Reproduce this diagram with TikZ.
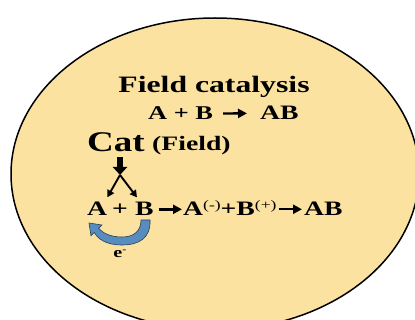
\documentclass[tikz,border=0pt]{standalone}
\usepackage{fontspec}
\setmainfont{Liberation Serif}[FakeStretch=1.35]
\newfontfamily\catfont{Liberation Serif}[FakeStretch=1.3]
\usepackage{xcolor}
\usetikzlibrary{arrows.meta}

\definecolor{cellfill}{RGB}{252,226,160}
\definecolor{eblue}{RGB}{88,140,190}
\definecolor{eedge}{RGB}{40,62,88}

\newcommand\chg[1]{\raisebox{6pt}{\fontsize{13}{13}\selectfont\mdseries #1}}

\begin{document}
\begin{tikzpicture}[x=1pt, y=-1pt,
    ttl/.style  = {inner sep=0pt, font=\bfseries\fontsize{23.5}{25}\selectfont},
    eqn/.style  = {inner sep=0pt, font=\bfseries\fontsize{20.5}{22}\selectfont},
    catl/.style = {inner sep=0pt, font=\catfont\bfseries\fontsize{28.5}{30}\selectfont},
    fld/.style  = {inner sep=0pt, font=\bfseries\fontsize{20.5}{22}\selectfont},
    rxn/.style  = {-{Triangle[length=9pt,width=9pt]}, line width=2.4pt},
    fork/.style = {-{Triangle[length=7pt,width=7.5pt]}, line width=1.9pt},
    push/.style = {-{Triangle[length=8pt,width=14pt]}, line width=6.5pt},
]

    \useasboundingbox (0,0) rectangle (415,320);
    \clip (0,0) rectangle (415,320);

    % ── Cellule ──
    \draw[fill=cellfill, line width=1.5pt] (215,174) ellipse [x radius=204, y radius=156];

    % ── Titre et bilan ──
    \node[ttl, anchor=base] (title) at (214,93) {Field catalysis};
    \node[eqn, anchor=base west, font=\bfseries\fontsize{19.5}{21}\selectfont] (ab1) at (148,120) {A + B};
    \node[eqn, anchor=base west] (prod1) at (260,120) {AB};
    \draw[rxn, shorten <=10pt, shorten >=13pt] (ab1.east) -- (prod1.west);

    % ── Catalyseur ──
    \node[catl, anchor=base west] (cat) at (87,152) {Cat};
    \node[fld, anchor=base west] (fld) at (152,151) {(Field)};

    % ── Réaction détaillée ──
    \node[eqn, anchor=base west] (ra) at (87,216) {A};
    \node[eqn, anchor=base] (pl) at (120,216) {+};
    \node[eqn, anchor=base west] (rb) at (135,216) {B};
    \node[eqn, anchor=base west] (ion) at (183,216) {A\chg{(-)}+B\chg{(+)}};
    \node[eqn, anchor=base west] (prod2) at (304,216) {AB};
    \draw[rxn, shorten <=5pt, shorten >=1pt] (rb.east) -- (rb.east -| ion.west);
    \draw[rxn, shorten <=2pt, shorten >=2pt] (ion.east |- prod2.west) -- (prod2.west);

    % ── Action du champ ──
    \coordinate (split) at (120,175);
    \draw[push, shorten <=5pt] (cat.south -| split) -- (split);
    \draw[fork] (split) -- ([yshift=5pt]ra.north east);
    \draw[fork] (split) -- ([yshift=5pt, xshift=2pt]rb.north west);

    % ── Transfert d'électron ──
    \draw[fill=eblue, draw=eedge, line width=0.6pt]
        (141,220) -- (150,220) .. controls (151,238) and (139,245) .. (122,245)
        .. controls (106,245) and (98,239) .. (94.3,232.5) -- (91,235.8)
        -- (89,223) -- (102,225) -- (98.5,228.3)
        .. controls (103,233) and (110,237) .. (122,237)
        .. controls (134,237) and (141,231) .. (141,220) -- cycle;
    \node[inner sep=0pt, font=\bfseries\fontsize{15}{15}\selectfont, anchor=base] (elec) at (120,258)
        {e\raisebox{5pt}{\fontsize{9}{9}\selectfont -}};

\end{tikzpicture}
\end{document}
